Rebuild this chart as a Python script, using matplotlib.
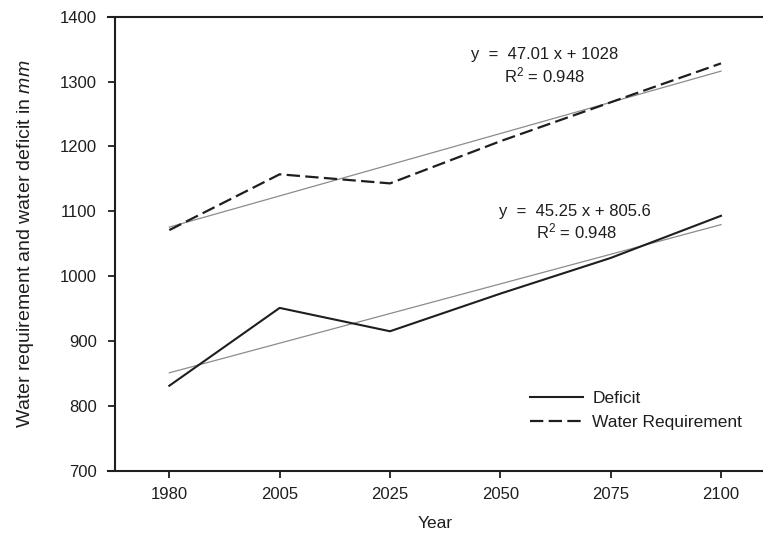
import numpy as np
import matplotlib
matplotlib.use('Agg')
import matplotlib.pyplot as plt

years = ['1980', '2005', '2025', '2050', '2075', '2100']
deficit = [831, 951, 915, 973, 1028, 1093]
water_requirement = [1071, 1157, 1143, 1208, 1268, 1328]
eq_wr = ['y  =  47.01 x + 1028', 'R$^2$ = 0.948']
eq_def = ['y  =  45.25 x + 805.6', 'R$^2$ = 0.948']

plt.rcParams['font.family'] = ['Liberation Sans', 'DejaVu Sans']
plt.rcParams['mathtext.fontset'] = 'custom'
plt.rcParams['mathtext.rm'] = 'Liberation Sans'
plt.rcParams['mathtext.it'] = 'Liberation Sans:italic'

ink = '#1e1e1e'
W, H = 763, 535
fig = plt.figure(figsize=(W / 100, H / 100), dpi=100)
ax = fig.add_axes([108 / W, 1 - 470.7 / H, 1 - 108 / W, (470.7 - 16.7) / H])

x = np.arange(1, len(years) + 1)

ax.plot(x, deficit, color=ink, lw=1.5, label='Deficit')
ax.plot(x, water_requirement, color=ink, lw=1.6, dashes=(6, 2.4), label='Water Requirement')

# linear trend lines
for series in (deficit, water_requirement):
    k, b = np.polyfit(x, series, 1)
    ax.plot(x, k * x + b, color='#8c8c8c', lw=0.9, zorder=1)

fs = 12
ax.text(4.40, 1341, eq_wr[0], ha='center', va='center', fontsize=fs, color=ink)
ax.text(4.40, 1310, eq_wr[1], ha='center', va='center', fontsize=fs, color=ink)
ax.text(4.68, 1099, eq_def[0], ha='center', va='center', fontsize=fs, color=ink)
ax.text(4.69, 1069, eq_def[1], ha='center', va='center', fontsize=fs, color=ink)

step = 110.3
ax.set_xlim(1 - (169.3 - 108) / step, 6 + (W - 721) / step)
ax.set_ylim(700, 1400)
ax.set_xticks(x)
ax.set_xticklabels(years)
ax.set_yticks(np.arange(700, 1401, 100))

# left axis sits a little inside, so top and bottom lines stick out past it
ax.spines['left'].set_position(('data', 1 - (169.3 - 115) / step))
ax.spines['right'].set_visible(False)
for s in ('left', 'bottom', 'top'):
    ax.spines[s].set_linewidth(1.5)
    ax.spines[s].set_color(ink)
ax.tick_params(direction='out', length=5, width=1.3, colors=ink, labelsize=fs)
ax.tick_params(axis='y', pad=8)
ax.tick_params(axis='x', pad=6.5)

ax.set_xlabel('Year', fontsize=12.5, color=ink, labelpad=10)
ax.set_ylabel('Water requirement and water deficit in $\\mathit{mm}$', fontsize=14, color=ink, labelpad=17)

leg = ax.legend(loc='upper left', bbox_to_anchor=((530 - 108) / (W - 108), (470.7 - 391) / 454),
                frameon=False, fontsize=12.5, handlelength=3.05, handletextpad=0.55, labelspacing=0.5,
                borderaxespad=0, borderpad=0)
for t in leg.get_texts():
    t.set_color(ink)

fig.savefig('out.png', dpi=100)
